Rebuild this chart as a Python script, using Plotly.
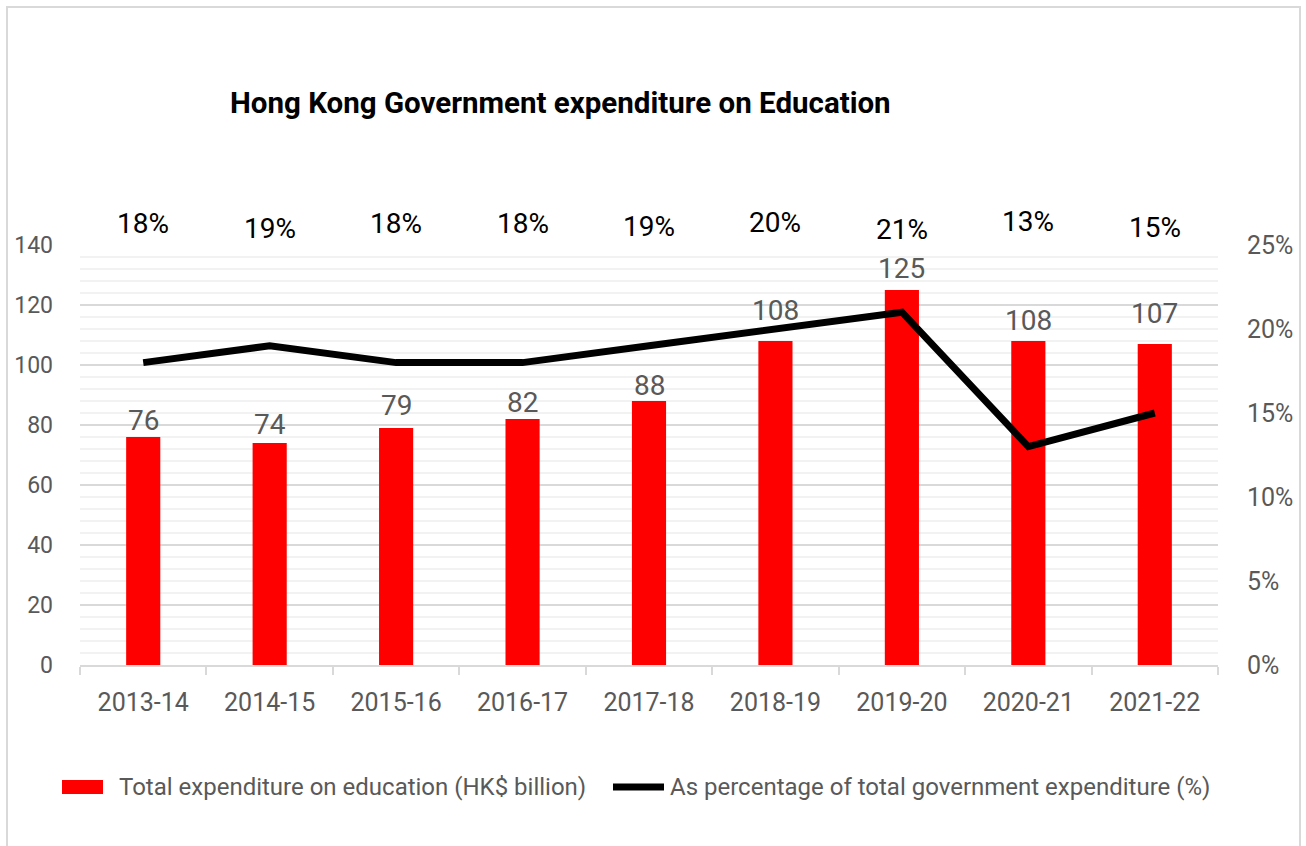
import plotly.graph_objects as go

years = ["2013-14", "2014-15", "2015-16", "2016-17", "2017-18", "2018-19", "2019-20", "2020-21", "2021-22"]
spend_bn = [76, 74, 79, 82, 88, 108, 125, 108, 107]
pct_total = [18, 19, 18, 18, 19, 20, 21, 13, 15]
pct_label_shift = [0, -5, 0, 0, -3, 1, -6, 2, -4]      # pixel offsets of the top % labels
bar_label_gap = [17, 19, 23, 17, 16, 31, 22, 21, 31]   # pixel gap from bar top to label centre

bar_name = "Total expenditure on education (HK$ billion)"
line_name = "As percentage of total government expenditure (%)"

FONT = "Roboto"
W, H = 1306, 846
L, R, T, B = 80, 88, 245, 181
pw, ph = W - L - R, H - T - B

def px_x(p):
    return (p - L) / pw

def px_y(p):
    return (H - B - p) / ph

fig = go.Figure()
fig.add_trace(go.Bar(
    x=years, y=spend_bn, name=bar_name, showlegend=False,
    marker=dict(color="#ff0000", line=dict(width=0)), width=0.27,
))
fig.add_trace(go.Scatter(
    x=years, y=pct_total, name=line_name, showlegend=False,
    yaxis="y2", mode="lines", line=dict(color="#000000", width=7),
))

for yr, v, g in zip(years, spend_bn, bar_label_gap):
    fig.add_annotation(x=yr, y=v, xref="x", yref="y", yanchor="middle", text=str(v),
                       showarrow=False, yshift=g,
                       font=dict(family=FONT, size=28, color="#595959"))

for yr, v, s in zip(years, pct_total, pct_label_shift):
    fig.add_annotation(x=yr, y=px_y(223), yref="paper", yanchor="middle", text=f"{v}%",
                       showarrow=False, yshift=s,
                       font=dict(family=FONT, size=28, color="#000000"))

# border
fig.add_shape(type="rect", xref="paper", yref="paper",
              x0=px_x(7), x1=px_x(1300), y0=px_y(7), y1=px_y(900),
              line=dict(color="#d9d9d9", width=2), fillcolor="rgba(0,0,0,0)", layer="below")

# legend (drawn manually to match the wide swatches)
ly = px_y(787)
fig.add_shape(type="rect", xref="paper", yref="paper",
              x0=px_x(62), x1=px_x(103), y0=px_y(794), y1=px_y(780),
              fillcolor="#ff0000", line=dict(width=0))
fig.add_annotation(x=px_x(117), y=ly, xref="paper", yref="paper", xanchor="left", yanchor="middle",
                   text=bar_name, showarrow=False, font=dict(family=FONT, size=24, color="#595959"))
fig.add_shape(type="line", xref="paper", yref="paper",
              x0=px_x(613), x1=px_x(664), y0=ly, y1=ly,
              line=dict(color="#000000", width=7))
fig.add_annotation(x=px_x(668), y=ly, xref="paper", yref="paper", xanchor="left", yanchor="middle",
                   text=line_name, showarrow=False, font=dict(family=FONT, size=24, color="#595959"))

fig.update_layout(
    width=W, height=H, margin=dict(l=L, r=R, t=T, b=B),
    paper_bgcolor="white", plot_bgcolor="white",
    font=dict(family=FONT, color="#595959"),
    title=dict(text="<b>Hong Kong Government expenditure on Education</b>",
               x=230 / W, xanchor="left", y=1 - 103 / H, yanchor="middle",
               font=dict(family=FONT, size=29.5, color="#000000")),
    showlegend=False,
    xaxis=dict(type="category", showline=True, linecolor="#d9d9d9", linewidth=2,
               ticks="outside", tickson="boundaries", ticklen=8, tickcolor="#d9d9d9", tickwidth=2,
               ticklabelstandoff=14,
               tickfont=dict(family=FONT, size=25, color="#595959"), showgrid=False),
    yaxis=dict(range=[0, 140], dtick=20, showgrid=True, gridcolor="#d9d9d9", gridwidth=2,
               minor=dict(dtick=4, showgrid=True, gridcolor="#f2f2f2", gridwidth=2),
               zeroline=False, ticks="", ticklabelstandoff=26,
               tickfont=dict(family=FONT, size=23, color="#595959")),
    yaxis2=dict(range=[0, 25], dtick=5, overlaying="y", side="right", showgrid=False,
                zeroline=False, ticksuffix="%", ticklabelstandoff=28,
                tickfont=dict(family=FONT, size=25, color="#595959")),
)

fig.write_html("out.html")
